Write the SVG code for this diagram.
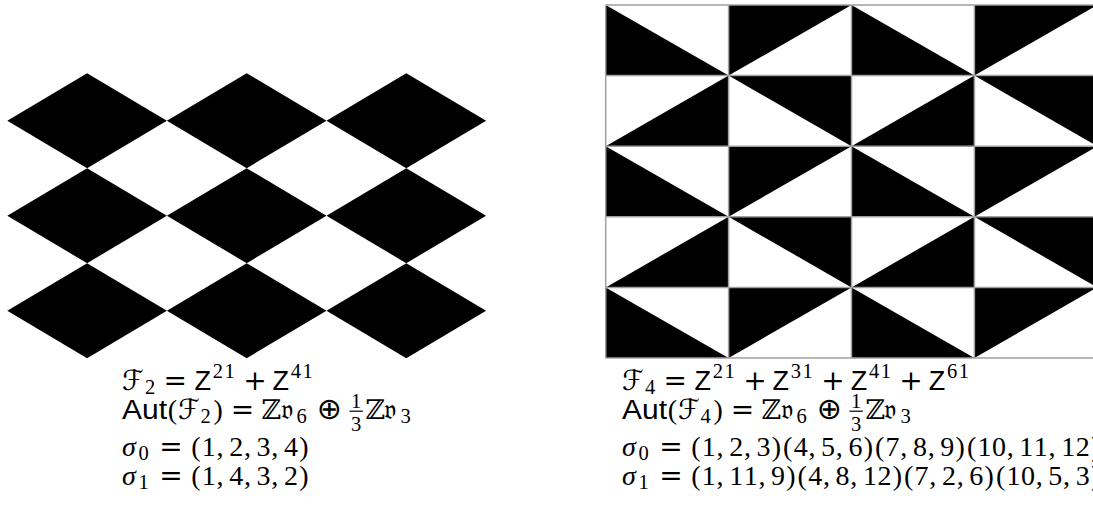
<svg xmlns="http://www.w3.org/2000/svg" width="1093" height="508" viewBox="0 0 1093 508">
<style>
.s{font-family:"Liberation Serif","DejaVu Serif",serif;font-size:28px;fill:#000}
.sm{font-family:"Liberation Serif","DejaVu Serif",serif;font-size:20.5px;fill:#000}
.it{font-style:italic}
.sf{font-family:"Liberation Sans","DejaVu Sans",sans-serif;font-size:27px;fill:#000}
.op{font-family:"DejaVu Serif","DejaVu Sans",serif;font-size:28px;fill:#000;text-anchor:middle}
.opl{font-family:"DejaVu Sans",sans-serif;font-size:30px;fill:#000;text-anchor:middle}
.cal{font-family:"DejaVu Serif","DejaVu Sans",serif;font-size:28px;fill:#000}
.bb{font-family:"DejaVu Serif","DejaVu Sans",serif;font-size:27px;fill:#000}
.fk{font-family:"DejaVu Serif","DejaVu Sans","Noto Sans",serif;font-size:28px;fill:#000}
.grid{stroke:#a0a0a0;stroke-width:1.5;fill:none}
.blk{fill:#000}
</style>
<defs>
<polygon id="dia" points="-79.8,0 0,-47.5 79.8,0 0,47.5"/>
</defs>
<rect width="1093" height="508" fill="#fff"/>

<g id="diamonds" class="blk">
<use href="#dia" x="87.1" y="120.7"/>
<use href="#dia" x="246.7" y="120.7"/>
<use href="#dia" x="406.3" y="120.7"/>
<use href="#dia" x="87.1" y="215.7"/>
<use href="#dia" x="246.7" y="215.7"/>
<use href="#dia" x="406.3" y="215.7"/>
<use href="#dia" x="87.1" y="310.7"/>
<use href="#dia" x="246.7" y="310.7"/>
<use href="#dia" x="406.3" y="310.7"/>
</g>

<g id="triangles" class="blk">
<polygon points="605.7,5 605.7,75.6 728.6,75.6"/>
<polygon points="728.6,5 851.5,5 728.6,75.6"/>
<polygon points="851.5,5 851.5,75.6 974.4,75.6"/>
<polygon points="974.4,5 1097.3,5 974.4,75.6"/>
<polygon points="605.7,146.2 728.6,75.6 728.6,146.2"/>
<polygon points="728.6,75.6 851.5,75.6 851.5,146.2"/>
<polygon points="851.5,146.2 974.4,75.6 974.4,146.2"/>
<polygon points="974.4,75.6 1097.3,75.6 1097.3,146.2"/>
<polygon points="605.7,146.2 605.7,216.8 728.6,216.8"/>
<polygon points="728.6,146.2 851.5,146.2 728.6,216.8"/>
<polygon points="851.5,146.2 851.5,216.8 974.4,216.8"/>
<polygon points="974.4,146.2 1097.3,146.2 974.4,216.8"/>
<polygon points="605.7,287.4 728.6,216.8 728.6,287.4"/>
<polygon points="728.6,216.8 851.5,216.8 851.5,287.4"/>
<polygon points="851.5,287.4 974.4,216.8 974.4,287.4"/>
<polygon points="974.4,216.8 1097.3,216.8 1097.3,287.4"/>
<polygon points="605.7,287.4 605.7,358 728.6,358"/>
<polygon points="728.6,287.4 851.5,287.4 728.6,358"/>
<polygon points="851.5,287.4 851.5,358 974.4,358"/>
<polygon points="974.4,287.4 1097.3,287.4 974.4,358"/>
</g>
<g id="gridlines" class="grid">
<path d="M605.7,5H1093M605.7,75.6H1093M605.7,146.2H1093M605.7,216.8H1093M605.7,287.4H1093M605.7,358H1093"/>
<path d="M605.7,5V358M728.6,5V358M851.5,5V358M974.4,5V358"/>
</g>

<g id="caption-left">
<text class="cal" x="122" y="389.5">ℱ</text>
<text class="sm" x="145" y="394">2</text>
<text class="op" x="175.2" y="389.5">=</text>
<text class="sf" x="194.5" y="389.5">Z</text>
<text class="sm" x="212.7 224.5" y="377.5">21</text>
<text class="op" x="254.9" y="389.5">+</text>
<text class="sf" x="272.6" y="389.5">Z</text>
<text class="sm" x="290.8 302.6" y="377.5">41</text>

<text class="sf" x="122" y="418.5" textLength="45" lengthAdjust="spacingAndGlyphs">Aut</text>
<text class="s" x="167.8" y="418.5">(</text>
<text class="cal" x="178.1" y="418.5">ℱ</text>
<text class="sm" x="200.5" y="423">2</text>
<text class="s" x="213.5" y="418.5">)</text>
<text class="op" x="242.5" y="418.5">=</text>
<text class="bb" x="261.5" y="418.5">ℤ</text>
<text class="fk" x="280.5" y="418.5">𝔳</text>
<text class="sm" x="296.5" y="423">6</text>
<text class="opl" x="329.2" y="418.5">⊕</text>
<text class="sm" x="356.2" y="408" text-anchor="middle">1</text>
<rect x="349.5" y="410.6" width="13.4" height="1.2" fill="#000"/>
<text class="sm" x="356.2" y="431" text-anchor="middle">3</text>
<text class="bb" x="365.4" y="418.5">ℤ</text>
<text class="fk" x="384.4" y="418.5">𝔳</text>
<text class="sm" x="400.4" y="423">3</text>

<text class="s it" x="122" y="456">σ</text>
<text class="sm" x="138.6" y="460.4">0</text>
<text class="op" x="170.9" y="456">=</text>
<text class="s" x="191.2 201.75 216.5 229.15 243.9 256.55 271.3 283.95 299.2" y="456">(1,2,3,4)</text>

<text class="s it" x="122" y="485">σ</text>
<text class="sm" x="138.6" y="489.4">1</text>
<text class="op" x="170.9" y="485">=</text>
<text class="s" x="191.2 201.75 216.5 229.15 243.9 256.55 271.3 283.95 299.2" y="485">(1,4,3,2)</text>
</g>

<g id="caption-right">
<text class="cal" x="622" y="389.5">ℱ</text>
<text class="sm" x="645" y="394">4</text>
<text class="op" x="675.2" y="389.5">=</text>
<text class="sf" x="694.5" y="389.5">Z</text>
<text class="sm" x="712.7 724.5" y="377.5">21</text>
<text class="op" x="754.9" y="389.5">+</text>
<text class="sf" x="772.6" y="389.5">Z</text>
<text class="sm" x="790.8 802.6" y="377.5">31</text>
<text class="op" x="833" y="389.5">+</text>
<text class="sf" x="850.7" y="389.5">Z</text>
<text class="sm" x="868.9 880.7" y="377.5">41</text>
<text class="op" x="911" y="389.5">+</text>
<text class="sf" x="928.8" y="389.5">Z</text>
<text class="sm" x="947 958.8" y="377.5">61</text>

<text class="sf" x="622" y="418.5" textLength="45" lengthAdjust="spacingAndGlyphs">Aut</text>
<text class="s" x="667.8" y="418.5">(</text>
<text class="cal" x="678.1" y="418.5">ℱ</text>
<text class="sm" x="700.5" y="423">4</text>
<text class="s" x="713.5" y="418.5">)</text>
<text class="op" x="742.5" y="418.5">=</text>
<text class="bb" x="761.5" y="418.5">ℤ</text>
<text class="fk" x="780.5" y="418.5">𝔳</text>
<text class="sm" x="796.5" y="423">6</text>
<text class="opl" x="829.2" y="418.5">⊕</text>
<text class="sm" x="856.2" y="408" text-anchor="middle">1</text>
<rect x="849.5" y="410.6" width="13.4" height="1.2" fill="#000"/>
<text class="sm" x="856.2" y="431" text-anchor="middle">3</text>
<text class="bb" x="865.4" y="418.5">ℤ</text>
<text class="fk" x="884.4" y="418.5">𝔳</text>
<text class="sm" x="900.4" y="423">3</text>

<text class="s it" x="622" y="456">σ</text>
<text class="sm" x="638.6" y="460.4">0</text>
<text class="op" x="670.9" y="456">=</text>
<text class="s" x="691.2 701.75 716.5 729.15 743.9 756.55 771.8 783.1 793.65 808.4 821.05 835.8 848.45 863.7 875 885.55 900.3 912.95 927.7 940.35 955.6 966.9 977.45 991.95 1006.7 1019.35 1033.85 1048.6 1061.25 1075.75 1091" y="456">(1,2,3)(4,5,6)(7,8,9)(10,11,12)</text>

<text class="s it" x="622" y="485">σ</text>
<text class="sm" x="638.6" y="489.4">1</text>
<text class="op" x="670.9" y="485">=</text>
<text class="s" x="691.2 701.75 716.5 729.15 743.65 758.4 771.05 786.3 797.6 808.15 822.9 835.55 850.3 862.95 877.45 892.7 904 914.55 929.3 941.95 956.7 969.35 984.6 995.9 1006.45 1020.95 1035.7 1048.35 1063.1 1075.75 1091" y="485">(1,11,9)(4,8,12)(7,2,6)(10,5,3)</text>
</g>
</svg>
